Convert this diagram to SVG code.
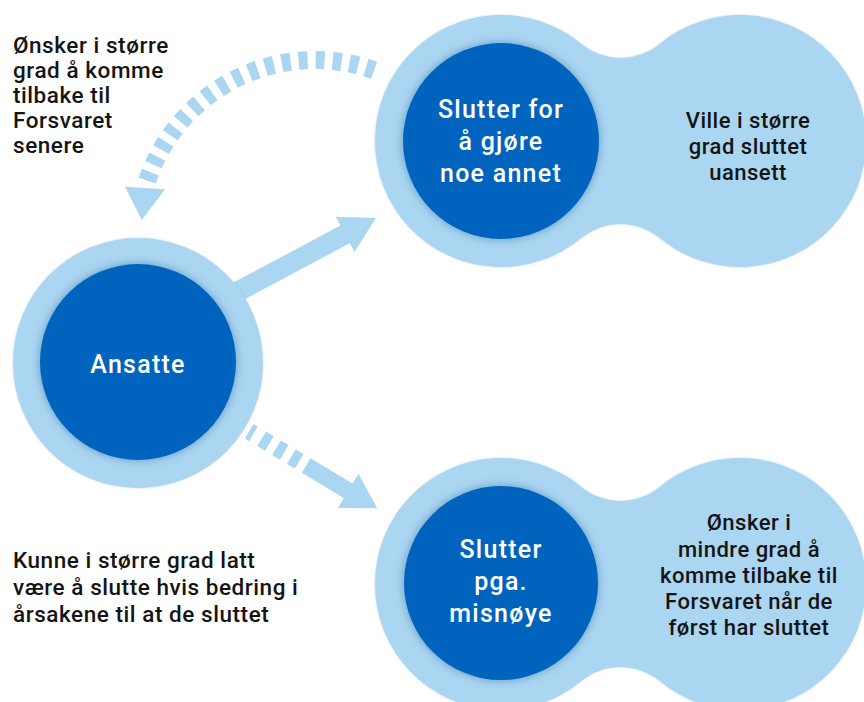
<svg xmlns="http://www.w3.org/2000/svg" width="864" height="702" viewBox="0 0 864 702">
  <defs>
    <style>
      .light { fill: #ABD6F1; }
      .dark { fill: #0064BD; }
      .t { font-family: Roboto, "Liberation Sans", Arial, sans-serif; font-weight: 500; }
      .w { fill: #FFFFFF; font-size: 25px; letter-spacing: 1.25px; text-anchor: middle; }
      .b { fill: #141414; font-size: 22px; letter-spacing: 0.5px; }
      .l { font-size: 22.5px; letter-spacing: 0.55px; }
      .c { text-anchor: middle; }
    </style>
    <filter id="inner" x="-20%" y="-20%" width="140%" height="140%">
      <feDropShadow dx="0" dy="0" stdDeviation="5" flood-color="#0b4a8c" flood-opacity="0.45"/>
    </filter>
    <filter id="outer" x="-10%" y="-10%" width="120%" height="120%">
      <feDropShadow dx="0" dy="0" stdDeviation="1.2" flood-color="#6a8aa5" flood-opacity="0.35"/>
    </filter>
  </defs>
  <rect width="864" height="702" fill="#FFFFFF"/>

  <g id="connectors">
    <!-- dashed arc arrow back to Ansatte -->
    <path d="M144.9,188.2 A177,177 0 0 1 374.1,70.2" fill="none" stroke="#ABD6F1" stroke-width="18" stroke-dasharray="9 8" stroke-dashoffset="9"/>
    <polygon points="125,186.7 165,189.3 141.7,220" class="light"/>
    <!-- solid arrow to top blob -->
    <g transform="translate(376,218) rotate(-28)">
      <polygon class="light" points="-175,-10 -35,-10 -35,-20 0,0 -35,20 -35,10 -175,10"/>
    </g>
    <!-- dashed arrow to bottom blob -->
    <g transform="translate(377.3,508.3) rotate(31)">
      <polygon class="light" points="-83,-8.5 -34,-8.5 -34,-20 0,0 -34,20 -34,8.5 -83,8.5"/>
      <rect class="light" x="-100.3" y="-8.5" width="9" height="17"/>
      <rect class="light" x="-117.6" y="-8.5" width="9" height="17"/>
      <rect class="light" x="-134.9" y="-8.5" width="9" height="17"/>
      <rect class="light" x="-149.5" y="-8.5" width="5" height="17"/>
    </g>
  </g>

  <g id="ansatte">
    <circle cx="138" cy="363" r="125" class="light" filter="url(#outer)"/>
    <circle cx="138" cy="362" r="98" class="dark" filter="url(#inner)"/>
    <text class="t w" x="138" y="372.5">Ansatte</text>
  </g>

  <g id="slutter-annet">
    <path class="light" filter="url(#outer)" d="M581.3,43.9 A61.55,61.55 0 0 0 659.7,43.9 A126,126 0 1 1 659.7,238.1 A61.55,61.55 0 0 0 581.3,238.1 A126,126 0 1 1 581.3,43.9 Z"/>
    <circle cx="501" cy="141" r="98" class="dark" filter="url(#inner)"/>
    <text class="t w" x="501" y="118.3">Slutter for</text>
    <text class="t w" x="501" y="150">å gjøre</text>
    <text class="t w" x="501" y="181.7">noe annet</text>
    <text class="t b c" x="748" y="128.3">Ville i større</text>
    <text class="t b c" x="748" y="154.3">grad sluttet</text>
    <text class="t b c" x="748" y="180.3">uansett</text>
  </g>

  <g id="slutter-misnoye">
    <path class="light" filter="url(#outer)" d="M581.3,486.9 A61.55,61.55 0 0 0 659.7,486.9 A126,126 0 1 1 659.7,681.1 A61.55,61.55 0 0 0 581.3,681.1 A126,126 0 1 1 581.3,486.9 Z"/>
    <circle cx="501" cy="583" r="97" class="dark" filter="url(#inner)"/>
    <text class="t w" x="501" y="558.3">Slutter</text>
    <text class="t w" x="501" y="590">pga.</text>
    <text class="t w" x="501" y="621.7">misnøye</text>
    <text class="t b c" x="749" y="530">Ønsker i</text>
    <text class="t b c" x="749" y="556.5">mindre grad å</text>
    <text class="t b c" x="749" y="582.7">komme tilbake til</text>
    <text class="t b c" x="749" y="609">Forsvaret når de</text>
    <text class="t b c" x="749" y="635">først har sluttet</text>
  </g>

  <g id="label-return">
    <text class="t b l" x="13" y="53.3">Ønsker i større</text>
    <text class="t b l" x="13" y="78.3">grad å komme</text>
    <text class="t b l" x="13" y="103.3">tilbake til</text>
    <text class="t b l" x="13" y="128.3">Forsvaret</text>
    <text class="t b l" x="13" y="153.3">senere</text>
  </g>

  <g id="label-improve">
    <text class="t b l" x="13" y="568.3">Kunne i større grad latt</text>
    <text class="t b l" x="13" y="594.8">være å slutte hvis bedring i</text>
    <text class="t b l" x="13" y="621.5">årsakene til at de sluttet</text>
  </g>
</svg>
